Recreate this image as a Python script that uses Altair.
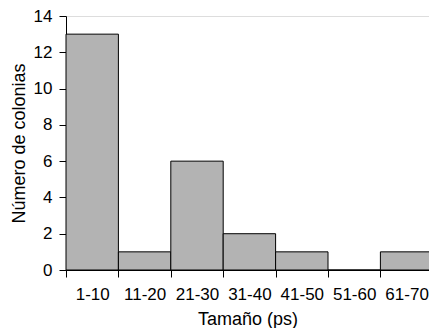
import altair as alt
import pandas as pd

categories = ["1-10", "11-20", "21-30", "31-40", "41-50", "51-60", "61-70"]
counts = [13, 1, 6, 2, 1, 0, 1]

df = pd.DataFrame({
    "cat": categories,
    "count": counts,
    "start": list(range(len(categories))),
})
df["end"] = df["start"] + 1

label_js = "[" + ",".join("'" + c + "'" for c in categories) + "]"
tick_vals = [i * 0.5 for i in range(0, 2 * len(categories))]

FONT = "Liberation Sans"
LEFT = 58
W = 421 - LEFT
BAND = 52.4
H = 254

chart = alt.Chart(df).mark_bar(
    color="#b3b3b3", stroke="black", strokeWidth=1
).encode(
    x=alt.X(
        "start:Q",
        scale=alt.Scale(domain=[0, W / BAND], nice=False, zero=False),
        axis=alt.Axis(
            values=tick_vals,
            labelExpr="datum.value % 1 == 0.5 ? " + label_js + "[floor(datum.value)] : ''",
            tickOpacity={"condition": {"test": "datum.value % 1 == 0", "value": 1}, "value": 0},
            title="Tamaño (ps)",
            titleFontSize=18,
            titleFontWeight="normal",
            titleY=54,
            titleBaseline="alphabetic",
            labelFontSize=17,
            labelPadding=9,
            labelFlush=False,
            labelOverlap=False,
            tickSize=7,
            domainColor="black",
            tickColor="black",
            labelColor="black",
            titleColor="black",
            grid=False,
        ),
    ),
    x2="end:Q",
    y=alt.Y(
        "count:Q",
        scale=alt.Scale(domain=[0, 14], nice=False),
        axis=alt.Axis(
            values=list(range(0, 15, 2)),
            title="Número de colonias",
            titleFontSize=18,
            titleFontWeight="normal",
            titleX=-42,
            titleY=H / 2,
            titleAngle=-90,
            titleAlign="center",
            titleBaseline="alphabetic",
            labelFontSize=17,
            labelPadding=7,
            tickSize=7,
            domainColor="black",
            tickColor="black",
            labelColor="black",
            titleColor="black",
            grid=False,
        ),
    ),
    y2=alt.datum(0),
).properties(
    width=W,
    height=H,
    autosize=alt.AutoSizeParams(type="none"),
    padding={"left": LEFT, "top": 8, "right": 0, "bottom": 58},
).configure_view(
    stroke=None
).configure(
    font=FONT
)

chart.save("out.html", embed_options={"renderer": "svg", "actions": False})
